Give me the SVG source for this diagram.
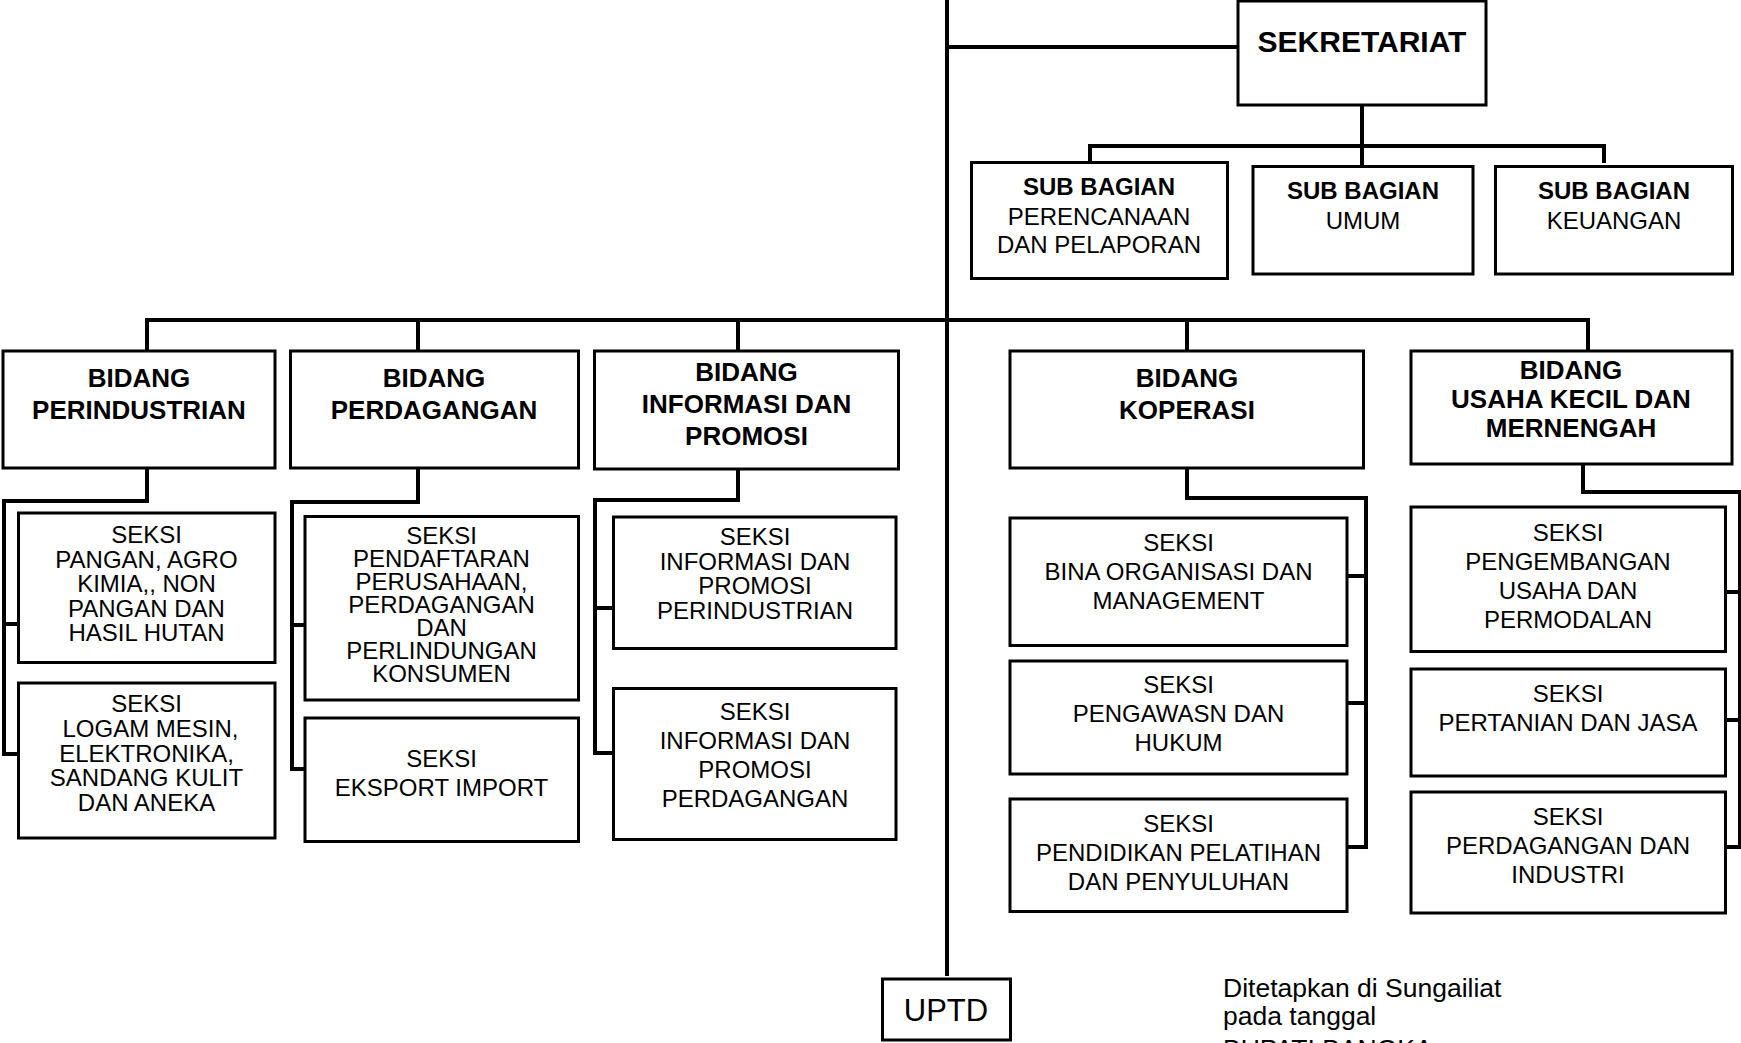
<svg xmlns="http://www.w3.org/2000/svg" width="1741" height="1043" viewBox="0 0 1741 1043">
<style>
.bx{fill:#fff;stroke:#000;stroke-width:3}
.cn{fill:none;stroke:#000;stroke-width:4}
text{font-family:"Liberation Sans",Arial,sans-serif;fill:#000;text-anchor:middle}
.b{font-weight:bold;font-size:26px}
.bs{font-weight:bold;font-size:24px}
.r{font-size:24px}
.t{font-weight:bold;font-size:30px}
.u{font-size:31px}
.n{font-size:26.5px;text-anchor:start}
</style>
<rect width="1741" height="1043" fill="#fff"/>
<g id="connectors">
<path class="cn" d="M947 0V976"/>
<path class="cn" d="M947 47H1238"/>
<path class="cn" d="M1362 105V166"/>
<path class="cn" d="M1090 146H1604M1090 144V163M1604 144V163"/>
<path class="cn" d="M145 320H1590M147 318V351M418 318V351M738 318V351M1187 318V351M1588 318V351"/>
<path class="cn" d="M147 468V501H4V754H18M4 624H18"/>
<path class="cn" d="M418 468V502H292V769H305M292 625H305"/>
<path class="cn" d="M738 469V500H595V753H613M595 608H613"/>
<path class="cn" d="M1187 464V498H1366V847H1347M1366 576H1347M1366 703H1347"/>
<path class="cn" d="M1583 464V492H1740V847H1726M1740 592H1726M1740 720H1726"/>
</g>
<g id="sekretariat"><rect class="bx" x="1238" y="1" width="248" height="104"/><text class="t" x="1362" y="52">SEKRETARIAT</text></g>
<g id="sub-perencanaan"><rect class="bx" x="971.5" y="162.5" width="256" height="116"/><text class="bs" x="1099" y="195">SUB BAGIAN</text><text class="r" x="1099" y="224.5">PERENCANAAN</text><text class="r" x="1099" y="253">DAN PELAPORAN</text></g>
<g id="sub-umum"><rect class="bx" x="1253" y="166.5" width="220" height="107.5"/><text class="bs" x="1363" y="199">SUB BAGIAN</text><text class="r" x="1363" y="228.5">UMUM</text></g>
<g id="sub-keuangan"><rect class="bx" x="1495.5" y="166.5" width="237" height="107.5"/><text class="bs" x="1614" y="199">SUB BAGIAN</text><text class="r" x="1614" y="228.5">KEUANGAN</text></g>
<g id="bidang-perindustrian"><rect class="bx" x="3" y="351" width="272" height="117"/><text class="b" x="139" y="387">BIDANG</text><text class="b" x="139" y="419">PERINDUSTRIAN</text></g>
<g id="bidang-perdagangan"><rect class="bx" x="290.5" y="351" width="288" height="117"/><text class="b" x="434" y="387">BIDANG</text><text class="b" x="434" y="419">PERDAGANGAN</text></g>
<g id="bidang-informasi"><rect class="bx" x="594.5" y="351" width="304" height="118"/><text class="b" x="746.5" y="381">BIDANG</text><text class="b" x="746.5" y="413">INFORMASI DAN</text><text class="b" x="746.5" y="445">PROMOSI</text></g>
<g id="bidang-koperasi"><rect class="bx" x="1010" y="351" width="353.5" height="117"/><text class="b" x="1187" y="387">BIDANG</text><text class="b" x="1187" y="419">KOPERASI</text></g>
<g id="bidang-ukm"><rect class="bx" x="1411" y="351" width="321" height="113"/><text class="b" x="1571" y="379">BIDANG</text><text class="b" x="1571" y="408">USAHA KECIL DAN</text><text class="b" x="1571" y="436.5">MERNENGAH</text></g>
<g id="seksi-pangan"><rect class="bx" x="18.5" y="513" width="256.5" height="149.5"/><text class="r" x="146.5" y="543">SEKSI</text><text class="r" x="146.5" y="567.5">PANGAN, AGRO</text><text class="r" x="146.5" y="592">KIMIA,, NON</text><text class="r" x="146.5" y="616.5">PANGAN DAN</text><text class="r" x="146.5" y="641">HASIL HUTAN</text></g>
<g id="seksi-logam"><rect class="bx" x="18.5" y="683" width="256.5" height="155"/><text class="r" x="146.5" y="712">SEKSI</text><text class="r" x="150.5" y="737">LOGAM MESIN,</text><text class="r" x="146.5" y="761.5">ELEKTRONIKA,</text><text class="r" x="146.5" y="786">SANDANG KULIT</text><text class="r" x="146.5" y="810.5">DAN ANEKA</text></g>
<g id="seksi-pendaftaran"><rect class="bx" x="305" y="516.5" width="273.5" height="183.5"/><text class="r" x="441.5" y="544">SEKSI</text><text class="r" x="441.5" y="567">PENDAFTARAN</text><text class="r" x="441.5" y="590">PERUSAHAAN,</text><text class="r" x="441.5" y="613">PERDAGANGAN</text><text class="r" x="441.5" y="636">DAN</text><text class="r" x="441.5" y="659">PERLINDUNGAN</text><text class="r" x="441.5" y="682">KONSUMEN</text></g>
<g id="seksi-eksport"><rect class="bx" x="305" y="718" width="273.5" height="123.5"/><text class="r" x="441.5" y="767">SEKSI</text><text class="r" x="441.5" y="795.5">EKSPORT IMPORT</text></g>
<g id="seksi-info-perindustrian"><rect class="bx" x="613.5" y="517" width="282.5" height="131.5"/><text class="r" x="755" y="544.5">SEKSI</text><text class="r" x="755" y="569.5">INFORMASI DAN</text><text class="r" x="755" y="594">PROMOSI</text><text class="r" x="755" y="618.5">PERINDUSTRIAN</text></g>
<g id="seksi-info-perdagangan"><rect class="bx" x="613.5" y="688.5" width="282.5" height="151"/><text class="r" x="755" y="720">SEKSI</text><text class="r" x="755" y="749">INFORMASI DAN</text><text class="r" x="755" y="778">PROMOSI</text><text class="r" x="755" y="807">PERDAGANGAN</text></g>
<g id="seksi-bina"><rect class="bx" x="1010" y="518" width="337" height="127.5"/><text class="r" x="1178.5" y="551">SEKSI</text><text class="r" x="1178.5" y="580">BINA ORGANISASI DAN</text><text class="r" x="1178.5" y="609">MANAGEMENT</text></g>
<g id="seksi-pengawasan"><rect class="bx" x="1010" y="661" width="337" height="113"/><text class="r" x="1178.5" y="693">SEKSI</text><text class="r" x="1178.5" y="722">PENGAWASN DAN</text><text class="r" x="1178.5" y="751">HUKUM</text></g>
<g id="seksi-pendidikan"><rect class="bx" x="1010" y="799" width="337" height="112.5"/><text class="r" x="1178.5" y="832">SEKSI</text><text class="r" x="1178.5" y="861">PENDIDIKAN PELATIHAN</text><text class="r" x="1178.5" y="890">DAN PENYULUHAN</text></g>
<g id="seksi-pengembangan"><rect class="bx" x="1411" y="507" width="314.5" height="144.5"/><text class="r" x="1568" y="540.5">SEKSI</text><text class="r" x="1568" y="569.5">PENGEMBANGAN</text><text class="r" x="1568" y="598.5">USAHA DAN</text><text class="r" x="1568" y="627.5">PERMODALAN</text></g>
<g id="seksi-pertanian"><rect class="bx" x="1411" y="669" width="314.5" height="107"/><text class="r" x="1568" y="702">SEKSI</text><text class="r" x="1568" y="731">PERTANIAN DAN JASA</text></g>
<g id="seksi-perdagangan-industri"><rect class="bx" x="1411" y="792" width="314.5" height="121"/><text class="r" x="1568" y="824.5">SEKSI</text><text class="r" x="1568" y="853.5">PERDAGANGAN DAN</text><text class="r" x="1568" y="882.5">INDUSTRI</text></g>
<g id="uptd"><rect class="bx" x="882.5" y="979" width="128" height="61"/><text class="u" x="946" y="1021">UPTD</text></g>
<g id="pengesahan"><text class="n" x="1223" y="997">Ditetapkan di Sungailiat</text><text class="n" x="1223" y="1025">pada tanggal</text><text class="n" x="1223" y="1058">BUPATI BANGKA</text></g>
</svg>
